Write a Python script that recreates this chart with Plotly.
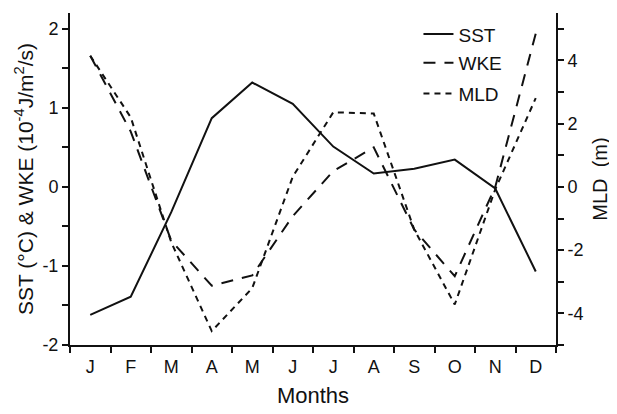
import plotly.graph_objects as go

months = ["J", "F", "M", "A", "M", "J", "J", "A", "S", "O", "N", "D"]
month_pos = [0.5, 1.5, 2.5, 3.5, 4.5, 5.5, 6.5, 7.5, 8.5, 9.5, 10.5, 11.5]
month_edges = [0, 1, 2, 3, 4, 5, 6, 7, 8, 9, 10, 11, 12]

sst = [-1.62, -1.39, -0.32, 0.87, 1.32, 1.05, 0.51, 0.17, 0.23, 0.345, -0.02, -1.07]
wke = [1.66, 0.70, -0.68, -1.25, -1.12, -0.37, 0.20, 0.50, -0.54, -1.13, 0.0, 1.94]
mld = [4.15, 2.2, -1.75, -4.56, -3.2, 0.32, 2.36, 2.32, -1.35, -3.72, -0.08, 2.81]

left_ticks = [-2, -1, 0, 1, 2]
left_labels = ["-2", "-1", "0", "1", "2"]
right_ticks = [-4, -2, 0, 2, 4]
right_labels = ["-4", "-2", "0", "2", "4"]

FONT = "Liberation Sans, Arial, sans-serif"
INK = "#111111"

fig = go.Figure()
fig.add_trace(go.Scatter(x=month_pos, y=sst, mode="lines", name="SST",
                         line=dict(color=INK, width=2), legend="legend"))
fig.add_trace(go.Scatter(x=month_pos, y=wke, mode="lines", name="WKE",
                         line=dict(color=INK, width=2, dash="12px,9px"), legend="legend2"))
fig.add_trace(go.Scatter(x=month_pos, y=mld, mode="lines", name="MLD", yaxis="y2",
                         line=dict(color=INK, width=2, dash="6px,5px"), legend="legend3"))

leg_common = dict(font=dict(family=FONT, size=19, color=INK), bgcolor="rgba(0,0,0,0)",
                  xanchor="left", yanchor="middle", itemwidth=30)

# page body has an 8px default margin; size the figure so it fills the 617x414 window
fig.update_layout(
    width=609, height=406,
    margin=dict(l=62, r=61, t=5, b=69),
    paper_bgcolor="white", plot_bgcolor="white",
    font=dict(family=FONT, color=INK),
    showlegend=True,
    legend=dict(x=0.717, y=0.936, **leg_common),
    legend2=dict(x=0.717, y=0.850, **leg_common),
    legend3=dict(x=0.717, y=0.757, **leg_common),
    xaxis=dict(
        range=[0, 12], tickvals=month_pos, ticktext=months,
        ticks="outside", ticklen=0, tickfont=dict(size=18, family=FONT, color=INK),
        ticklabelstandoff=4,
        minor=dict(tickvals=month_edges, ticks="outside", ticklen=6,
                   tickwidth=2, tickcolor=INK),
        showline=True, linecolor=INK, linewidth=2, mirror=False,
        showgrid=False, zeroline=False, automargin=False,
        title=dict(text="Months", font=dict(size=22, family=FONT, color=INK), standoff=12),
    ),
    xaxis2=dict(
        range=[0, 12], overlaying="x", side="top", anchor="y",
        tickvals=month_edges, ticks="outside", ticklen=6, tickwidth=2, tickcolor=INK,
        showticklabels=False, showline=True, linecolor=INK, linewidth=2,
        showgrid=False, zeroline=False, automargin=False,
    ),
    yaxis=dict(
        range=[-2, 2.2], tickvals=left_ticks, ticktext=left_labels,
        ticks="outside", ticklen=6, tickwidth=2, tickcolor=INK,
        minor=dict(tickmode="linear", tick0=0, dtick=0.5, ticks="outside", ticklen=6,
                   tickwidth=2, tickcolor=INK),
        tickfont=dict(size=18, family=FONT, color=INK),
        showline=True, linecolor=INK, linewidth=2, mirror=False,
        showgrid=False, zeroline=False, automargin=False,
        title=dict(text="SST (°C) & WKE (10<sup>-4</sup>J/m<sup>2</sup>/s)",
                   font=dict(size=21, family=FONT, color=INK), standoff=3),
    ),
    yaxis2=dict(
        range=[-5, 5.5], tickvals=right_ticks, ticktext=right_labels,
        overlaying="y", side="right",
        ticks="outside", ticklen=6, tickwidth=2, tickcolor=INK,
        minor=dict(tickmode="linear", tick0=1, dtick=2, ticks="outside", ticklen=6,
                   tickwidth=2, tickcolor=INK),
        tickfont=dict(size=18, family=FONT, color=INK),
        showline=True, linecolor=INK, linewidth=2,
        showgrid=False, zeroline=False, automargin=False,
        title=dict(text="MLD  (m)", font=dict(size=20, family=FONT, color=INK), standoff=10),
    ),
)

fig.write_html("out.html")
